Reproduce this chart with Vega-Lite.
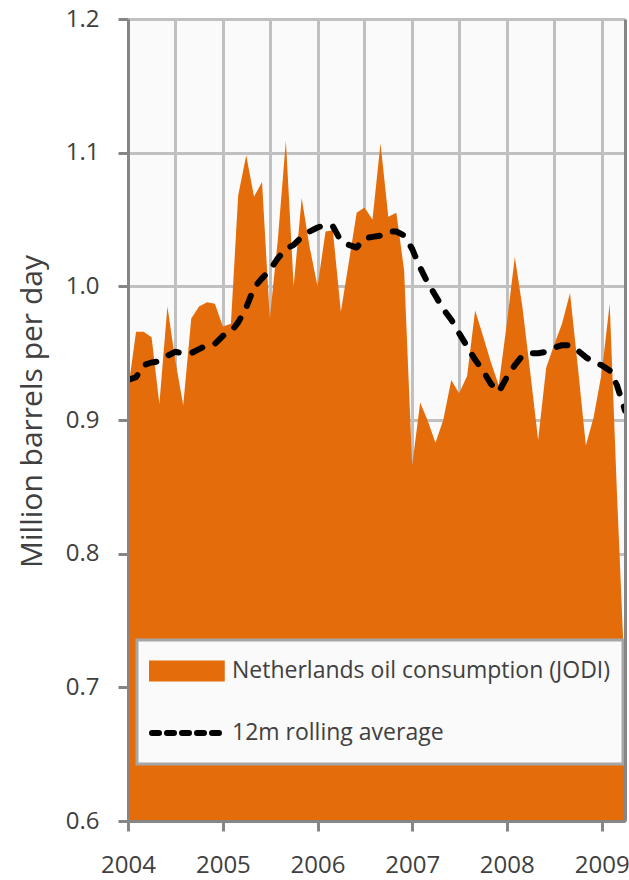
{
  "$schema": "https://vega.github.io/schema/vega-lite/v6.json",
  "width": 497,
  "height": 802,
  "autosize": {"type": "none"},
  "padding": {"left": 128, "top": 19, "right": 4, "bottom": 59},
  "background": "#ffffff",
  "config": {
    "font": "Open Sans",
    "view": {"fill": "#fafafa", "stroke": null},
    "axis": {
      "labelFont": "Open Sans", "labelFontSize": 24, "labelColor": "#404040",
      "titleFont": "Open Sans", "titleFontSize": 30, "titleColor": "#404040", "titleFontWeight": "normal",
      "domainColor": "#868686", "domainWidth": 3, "tickColor": "#868686", "tickWidth": 3, "tickSize": 10,
      "gridColor": "#c0c0c0", "gridWidth": 3
    }
  },
  "data": {
    "format": {"parse": {"date": "date:'%Y-%m'"}},
    "values": [
      {"date": "2004-01", "c": 0.922, "r": 0.930},
      {"date": "2004-02", "c": 0.966, "r": 0.932},
      {"date": "2004-03", "c": 0.966, "r": 0.941},
      {"date": "2004-04", "c": 0.962, "r": 0.943},
      {"date": "2004-05", "c": 0.912, "r": 0.944},
      {"date": "2004-06", "c": 0.985, "r": 0.948},
      {"date": "2004-07", "c": 0.945, "r": 0.951},
      {"date": "2004-08", "c": 0.911, "r": 0.950},
      {"date": "2004-09", "c": 0.976, "r": 0.950},
      {"date": "2004-10", "c": 0.985, "r": 0.953},
      {"date": "2004-11", "c": 0.988, "r": 0.956},
      {"date": "2004-12", "c": 0.987, "r": 0.957},
      {"date": "2005-01", "c": 0.970, "r": 0.963},
      {"date": "2005-02", "c": 0.972, "r": 0.966},
      {"date": "2005-03", "c": 1.068, "r": 0.973},
      {"date": "2005-04", "c": 1.098, "r": 0.984},
      {"date": "2005-05", "c": 1.067, "r": 0.999},
      {"date": "2005-06", "c": 1.078, "r": 1.006},
      {"date": "2005-07", "c": 0.976, "r": 1.012},
      {"date": "2005-08", "c": 1.035, "r": 1.021},
      {"date": "2005-09", "c": 1.109, "r": 1.028},
      {"date": "2005-10", "c": 1.000, "r": 1.031},
      {"date": "2005-11", "c": 1.066, "r": 1.037},
      {"date": "2005-12", "c": 1.030, "r": 1.041},
      {"date": "2006-01", "c": 1.000, "r": 1.044},
      {"date": "2006-02", "c": 1.041, "r": 1.046},
      {"date": "2006-03", "c": 1.042, "r": 1.045},
      {"date": "2006-04", "c": 0.981, "r": 1.034},
      {"date": "2006-05", "c": 1.017, "r": 1.031},
      {"date": "2006-06", "c": 1.055, "r": 1.029},
      {"date": "2006-07", "c": 1.059, "r": 1.036},
      {"date": "2006-08", "c": 1.050, "r": 1.037},
      {"date": "2006-09", "c": 1.107, "r": 1.038},
      {"date": "2006-10", "c": 1.052, "r": 1.041},
      {"date": "2006-11", "c": 1.055, "r": 1.041},
      {"date": "2006-12", "c": 1.012, "r": 1.038},
      {"date": "2007-01", "c": 0.866, "r": 1.028},
      {"date": "2007-02", "c": 0.913, "r": 1.014},
      {"date": "2007-03", "c": 0.900, "r": 1.003},
      {"date": "2007-04", "c": 0.883, "r": 0.993},
      {"date": "2007-05", "c": 0.900, "r": 0.983},
      {"date": "2007-06", "c": 0.930, "r": 0.975},
      {"date": "2007-07", "c": 0.920, "r": 0.965},
      {"date": "2007-08", "c": 0.933, "r": 0.955},
      {"date": "2007-09", "c": 0.982, "r": 0.945},
      {"date": "2007-10", "c": 0.963, "r": 0.937},
      {"date": "2007-11", "c": 0.943, "r": 0.927},
      {"date": "2007-12", "c": 0.926, "r": 0.921},
      {"date": "2008-01", "c": 0.972, "r": 0.932},
      {"date": "2008-02", "c": 1.022, "r": 0.941},
      {"date": "2008-03", "c": 0.985, "r": 0.948},
      {"date": "2008-04", "c": 0.935, "r": 0.950},
      {"date": "2008-05", "c": 0.885, "r": 0.950},
      {"date": "2008-06", "c": 0.939, "r": 0.951},
      {"date": "2008-07", "c": 0.956, "r": 0.954},
      {"date": "2008-08", "c": 0.972, "r": 0.956},
      {"date": "2008-09", "c": 0.995, "r": 0.956},
      {"date": "2008-10", "c": 0.940, "r": 0.952},
      {"date": "2008-11", "c": 0.881, "r": 0.947},
      {"date": "2008-12", "c": 0.902, "r": 0.943},
      {"date": "2009-01", "c": 0.935, "r": 0.941},
      {"date": "2009-02", "c": 0.987, "r": 0.937},
      {"date": "2009-03", "c": 0.845, "r": 0.926},
      {"date": "2009-04", "c": 0.703, "r": 0.907}
    ]
  },
  "layer": [
    {
      "mark": {"type": "area", "clip": true},
      "encoding": {
        "x": {
          "field": "date", "type": "temporal",
          "scale": {"domain": [{"year": 2004, "month": 1, "date": 1}, {"year": 2009, "month": 4, "date": 1}], "nice": false},
          "axis": {
            "orient": "bottom",
            "values": [
              {"year": 2004, "month": 1, "date": 1}, {"year": 2004, "month": 7, "date": 1},
              {"year": 2005, "month": 1, "date": 1}, {"year": 2005, "month": 7, "date": 1},
              {"year": 2006, "month": 1, "date": 1}, {"year": 2006, "month": 7, "date": 1},
              {"year": 2007, "month": 1, "date": 1}, {"year": 2007, "month": 7, "date": 1},
              {"year": 2008, "month": 1, "date": 1}, {"year": 2008, "month": 7, "date": 1},
              {"year": 2009, "month": 1, "date": 1}
            ],
            "grid": true, "domain": false, "ticks": false, "labels": false, "title": null
          }
        },
        "y": {
          "field": "c", "type": "quantitative",
          "scale": {"domain": [0.6, 1.2], "zero": false, "nice": false},
          "axis": {"orient": "left", "values": [0.6, 0.7, 0.8, 0.9, 1.0, 1.1, 1.2], "grid": true, "domain": false, "ticks": false, "labels": false, "title": null}
        },
        "color": {
          "datum": "Netherlands oil consumption (JODI)",
          "scale": {"domain": ["Netherlands oil consumption (JODI)", "12m rolling average"], "range": ["#e46c0a", "#000000"]},
          "legend": {
            "orient": "none", "legendX": 9, "legendY": 621, "direction": "vertical", "title": null,
            "fillColor": "#fafafa", "strokeColor": "#a6a6a6", "padding": 12,
            "labelFont": "Open Sans", "labelFontSize": 23, "labelColor": "#404040", "labelLimit": 600, "labelOffset": 2,
            "clipHeight": 38, "rowPadding": 24, "symbolSize": 5625, "symbolType": "M-1,-0.2H0.86V0.2H-1Z",
            "encode": {
              "legend": {"update": {"strokeWidth": {"value": 3}}},
              "symbols": {
                "update": {
                  "shape": {"signal": "datum.value === '12m rolling average' ? 'stroke' : 'M-1,-0.2H0.86V0.2H-1Z'"},
                  "fill": {"signal": "datum.value === '12m rolling average' ? 'transparent' : '#e46c0a'"},
                  "stroke": {"signal": "datum.value === '12m rolling average' ? '#000000' : 'transparent'"},
                  "strokeWidth": {"value": 6},
                  "strokeDash": {"signal": "datum.value === '12m rolling average' ? [7, 8] : [1, 0]"},
                  "strokeCap": {"value": "round"},
                  "size": {"value": 5625},
                  "opacity": {"value": 1}
                }
              }
            }
          }
        }
      }
    },
    {
      "mark": {"type": "line", "strokeWidth": 6, "strokeDash": [11, 14], "strokeCap": "round", "strokeJoin": "round", "clip": true},
      "encoding": {
        "x": {
          "field": "date", "type": "temporal",
          "axis": {
            "orient": "bottom",
            "values": [
              {"year": 2004, "month": 1, "date": 1}, {"year": 2005, "month": 1, "date": 1},
              {"year": 2006, "month": 1, "date": 1}, {"year": 2007, "month": 1, "date": 1},
              {"year": 2008, "month": 1, "date": 1}, {"year": 2009, "month": 1, "date": 1}
            ],
            "format": "%Y", "grid": false, "labelPadding": 22, "labelFlush": false, "labelOverlap": false, "title": null, "zindex": 1
          }
        },
        "y": {
          "field": "r", "type": "quantitative",
          "axis": {
            "orient": "left",
            "values": [0.6, 0.7, 0.8, 0.9, 1.0, 1.1, 1.2], "format": ".1f", "grid": false, "labelPadding": 19,
            "title": "Million barrels per day", "titleX": -96, "titleY": 392, "titleBaseline": "middle", "titleAngle": -90, "zindex": 1
          }
        },
        "color": {"datum": "12m rolling average"}
      }
    },
    {
      "mark": {"type": "line", "opacity": 0},
      "encoding": {
        "x": {"field": "date", "type": "temporal", "axis": null},
        "y": {"field": "r", "type": "quantitative", "axis": {"orient": "right", "domain": true, "ticks": false, "labels": false, "grid": false, "title": null, "zindex": 1}}
      }
    }
  ],
  "resolve": {"axis": {"x": "independent", "y": "independent"}}
}
